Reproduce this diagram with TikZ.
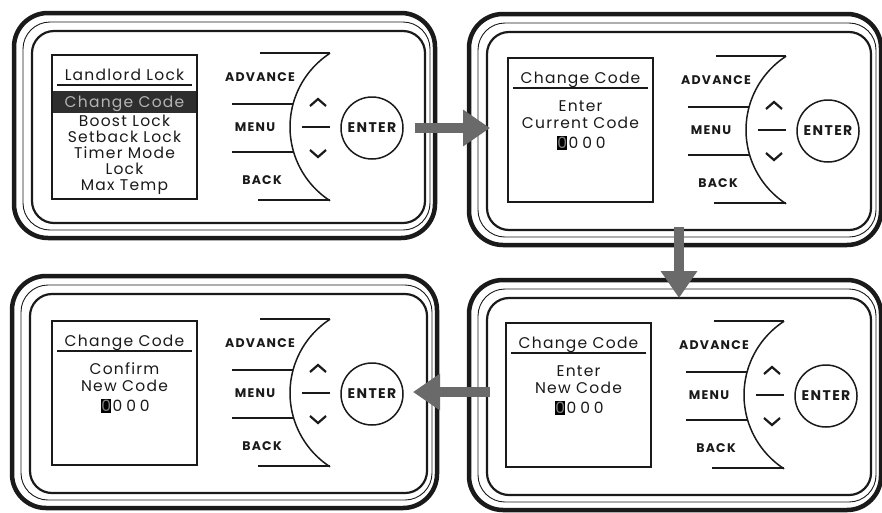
\documentclass[tikz,border=0pt]{standalone}
\usepackage{fontspec}
\setmainfont{Poppins}
\newfontfamily\scrfont[LetterSpace=8]{Poppins}
\newfontfamily\digfont[LetterSpace=25]{Poppins}
\newfontfamily\btnfont[LetterSpace=10]{Poppins}
\usetikzlibrary{arrows.meta}
\definecolor{arrgray}{HTML}{6A6A6A}
\definecolor{barfill}{HTML}{2E2E2E}
\definecolor{bartext}{HTML}{B4B4B4}
\definecolor{ink}{HTML}{1A1A1A}
\tikzset{
  outerframe/.style={draw=ink, line width=4.5pt, rounded corners=34pt},
  thinframe/.style={draw=ink, line width=0.9pt, rounded corners=27pt},
  innerframe/.style={draw=ink, line width=2.2pt, rounded corners=22pt},
  scrbox/.style={draw=ink, line width=1.8pt},
  uline/.style={draw=ink, line width=1.6pt},
  btnline/.style={draw=ink, line width=1.5pt},
  chev/.style={draw=ink, line width=2.2pt},
  scrtext/.style={font=\scrfont\fontsize{15.5}{17}\selectfont, inner sep=0pt, anchor=base, text=ink},
  digtext/.style={font=\digfont\fontsize{15.5}{17}\selectfont, inner sep=0pt, anchor=base west, text=ink},
  digbox/.style={font=\scrfont\fontsize{15.5}{17}\selectfont, fill=black, text=gray, inner xsep=0.2pt, inner ysep=1.5pt, anchor=base west},
  btnlabel/.style={font=\btnfont\bfseries\fontsize{12.5}{14}\selectfont, inner sep=0pt, anchor=base, text=ink},
  enterbtn/.style={circle, draw=ink, line width=1.5pt, minimum size=62pt, inner sep=0pt,
    font=\btnfont\bfseries\fontsize{14}{16}\selectfont, text=ink},
  bigarrow/.style={draw=arrgray, line width=10pt, -{Triangle[width=35pt,length=27pt,fill=arrgray]}}
}
\newcommand\panelframe[4]{%
  \draw[outerframe] (#1,#2) rectangle (#3,#4);
  \draw[thinframe] ({#1+9},{#2+9}) rectangle ({#3-5},{#4-8});
  \draw[innerframe] ({#1+18},{#2+18}) rectangle ({#3-10},{#4-15});
}
\newcommand\buttonset{%
  \draw[btnline] (260,53) -- (330,53);
  \draw[btnline] plot[domain=123:237, samples=40, smooth] ({378+88*cos(\x)},{127-88*sin(\x)});
  \draw[btnline] (258,200) -- (330,200);
  \draw[btnline] (232,104) -- (293,104);
  \draw[btnline] (232,152) -- (293.5,152);
  \draw[btnline] (302,127) -- (330,127);
  \draw[chev] (310,106) -- (318,99) -- (326,106);
  \draw[chev] (310,150) -- (318,157) -- (326,150);
  \node[btnlabel] (adv) at (260,81.5) {ADVANCE};
  \node[btnlabel] (menu) at (255,131.5) {MENU};
  \node[btnlabel] (back) at (262,184.5) {BACK};
  \node[enterbtn] (enter) at (372,128) {ENTER};
}
\newcommand\codescreen[2]{%
  \draw[scrbox] (52,55) rectangle (197,199);
  \node[scrtext] (title) at (124.5,80) {Change Code};
  \draw[uline] (57,85) -- (192,85);
  \node[scrtext] (l1) at (124.5,108) {#1};
  \node[scrtext] (l2) at (124.5,125) {#2};
  \node[digbox] (d1) at (101,145.5) {0};
  \node[digtext] (d2) at (112.5,145.5) {000};
}
\begin{document}
\begin{tikzpicture}[x=1pt,y=-1pt]
\useasboundingbox (0,0) rectangle (882,512);
\fill[white] (0,0) rectangle (882,512);
% frames
\panelframe{14}{13}{435}{238}
\panelframe{469}{14}{881}{245}
\panelframe{12}{276}{437}{508}
\panelframe{469}{280}{881}{510}
% panel 1
\begin{scope}[name prefix=p1-]
  \buttonset
  \draw[scrbox] (52,55) rectangle (197,199);
  \node[scrtext] (title) at (124.5,80) {Landlord Lock};
  \draw[uline] (57,85) -- (192,85);
  \fill[barfill] (53,91) rectangle (196,113);
  \node[scrtext, text=bartext] (sel) at (124.5,107) {Change Code};
  \node[scrtext] (m1) at (124.5,126) {Boost Lock};
  \node[scrtext] (m2) at (124.5,142) {Setback Lock};
  \node[scrtext] (m3) at (124.5,158) {Timer Mode};
  \node[scrtext] (m4) at (124.5,174) {Lock};
  \node[scrtext] (m5) at (124.5,190) {Max Temp};
\end{scope}
% panel 2
\begin{scope}[shift={(456,3)}, name prefix=p2-]
  \buttonset
  \codescreen{Enter}{Current Code}
\end{scope}
% panel 3
\begin{scope}[shift={(0,266)}, name prefix=p3-]
  \buttonset
  \codescreen{Confirm}{New Code}
\end{scope}
% panel 4
\begin{scope}[shift={(454,268)}, name prefix=p4-]
  \buttonset
  \codescreen{Enter}{New Code}
\end{scope}
% arrows
\coordinate (a1s) at (415,128);
\coordinate (a1e) at (490,128);
\coordinate (a2s) at (679,227);
\coordinate (a2e) at (679,298);
\coordinate (a3s) at (490,392);
\coordinate (a3e) at (413,392);
\draw[bigarrow] (a1s) -- (a1e);
\draw[bigarrow] (a2s) -- (a2e);
\draw[bigarrow] (a3s) -- (a3e);
\end{tikzpicture}
\end{document}
